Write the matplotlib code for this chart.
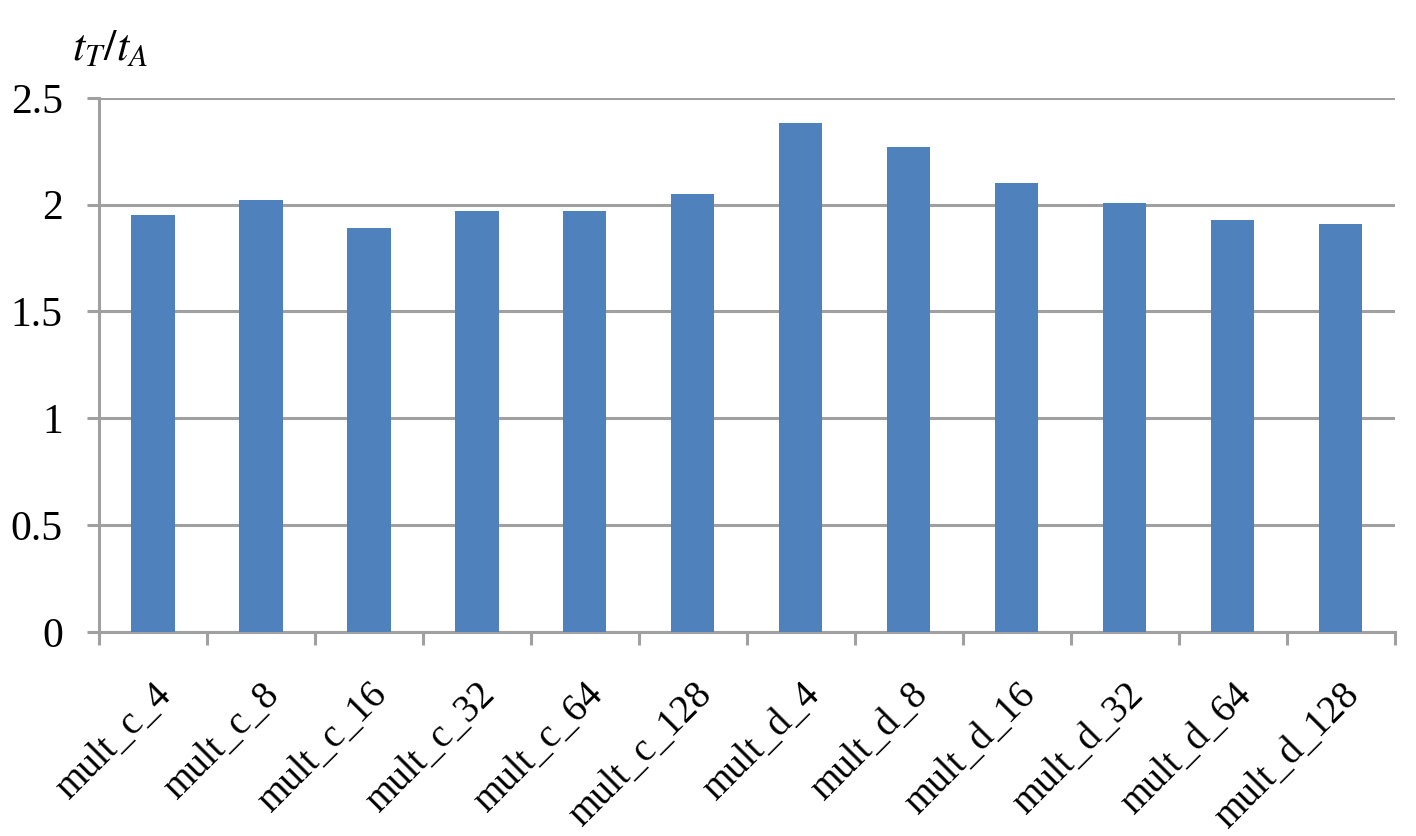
import matplotlib.pyplot as plt
import numpy as np
from matplotlib import rc

rc('font', family='Liberation Serif')
rc('mathtext', fontset='stix')

# data
labels = ['mult_c_4', 'mult_c_8', 'mult_c_16', 'mult_c_32', 'mult_c_64', 'mult_c_128',
          'mult_d_4', 'mult_d_8', 'mult_d_16', 'mult_d_32', 'mult_d_64', 'mult_d_128']
ratio = [1.95, 2.02, 1.89, 1.97, 1.97, 2.05, 2.38, 2.27, 2.10, 2.01, 1.93, 1.91]
yticks = [0, 0.5, 1, 1.5, 2, 2.5]

fig = plt.figure(figsize=(14.16, 8.36), dpi=100)
ax = fig.add_axes([0.0699, 0.244, 0.9151, 0.639])

x = np.arange(len(labels))
ax.bar(x, ratio, width=0.4, color='#4f81bd', zorder=3)

gray = '#a0a0a0'
ax.set_ylim(0, 2.5)
ax.set_xlim(-0.5, len(labels) - 0.5)
ax.set_yticks(yticks)
ax.set_yticklabels(['0', '0.5', '1', '1.5', '2', '2.5'], fontsize=30)
ax.yaxis.grid(True, color=gray, linewidth=2.2, zorder=0)
ax.tick_params(axis='y', length=9, width=2.2, color=gray, pad=17)

# category labels at centres, tick marks between categories
ax.set_xticks(x)
ax.set_xticklabels(labels, fontsize=28, rotation=45, ha='right', rotation_mode='anchor')
ax.tick_params(axis='x', which='major', length=0, pad=32)
ax.set_xticks(np.arange(len(labels) + 1) - 0.5, minor=True)
ax.tick_params(axis='x', which='minor', length=9, width=2.2, color=gray)

for s in ['top', 'right']:
    ax.spines[s].set_visible(False)
for s in ['left', 'bottom']:
    ax.spines[s].set_color(gray)
    ax.spines[s].set_linewidth(2.2)

fig.text(0.051, 0.928, r'$t_T/t_A$', fontsize=32)

fig.savefig('out.png', dpi=100)
